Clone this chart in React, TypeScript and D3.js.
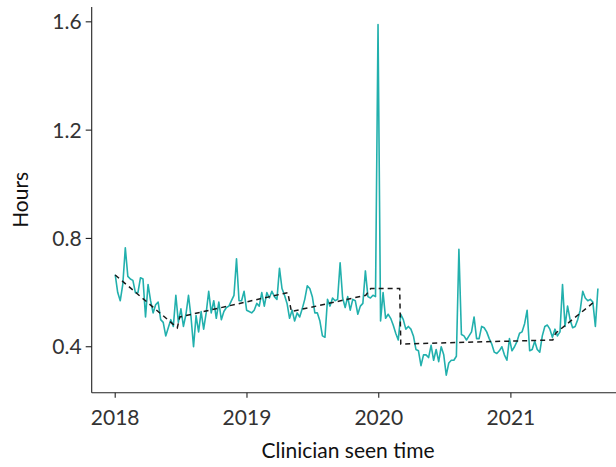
import React from "react";
import * as d3 from "d3";

// Weekly series starting 2018-01-01
const seriesStart = "2018-01-01";
const hours: number[] = [
  0.666, 0.60, 0.57, 0.63, 0.765, 0.66, 0.65, 0.645, 0.60, 0.60,
  0.655, 0.65, 0.51, 0.63, 0.57, 0.525, 0.555, 0.565, 0.50,
  0.49, 0.44, 0.47, 0.50, 0.475, 0.59, 0.49, 0.54, 0.475, 0.52,
  0.59, 0.51, 0.40, 0.515, 0.455, 0.53, 0.465, 0.525, 0.605, 0.525,
  0.57, 0.505, 0.565, 0.50, 0.53, 0.545, 0.55, 0.57, 0.59, 0.725,
  0.57, 0.57, 0.605, 0.535, 0.53, 0.525, 0.535, 0.56, 0.55,
  0.60, 0.55, 0.60, 0.58, 0.605, 0.585, 0.575, 0.69, 0.615, 0.59,
  0.56, 0.505, 0.535, 0.495, 0.525, 0.51, 0.54, 0.575, 0.625, 0.615,
  0.585, 0.525, 0.525, 0.495, 0.44, 0.435, 0.575, 0.55, 0.58,
  0.57, 0.575, 0.71, 0.58, 0.545, 0.585, 0.535, 0.575, 0.57, 0.52,
  0.55, 0.56, 0.68, 0.585, 0.58, 0.59, 0.585, 1.59, 0.495, 0.60,
  0.505, 0.52, 0.505, 0.48, 0.45, 0.425, 0.52, 0.50, 0.465, 0.475,
  0.465, 0.44, 0.39, 0.385, 0.33, 0.37, 0.37, 0.36, 0.405,
  0.35, 0.39, 0.345, 0.40, 0.37, 0.295, 0.34, 0.35, 0.35, 0.365,
  0.76, 0.445, 0.44, 0.425, 0.44, 0.455, 0.51, 0.43, 0.43, 0.475,
  0.47, 0.455, 0.43, 0.41, 0.38, 0.375, 0.385, 0.40, 0.37,
  0.35, 0.43, 0.385, 0.40, 0.42, 0.45, 0.455, 0.485, 0.535, 0.385,
  0.39, 0.42, 0.39, 0.38, 0.44, 0.475, 0.48, 0.465, 0.435, 0.465,
  0.44, 0.455, 0.63, 0.475, 0.55, 0.50, 0.47, 0.475, 0.50, 0.535,
  0.605, 0.58, 0.57, 0.575, 0.565, 0.475, 0.615,
];

// Segmented trend (dashed)
const trendDates: string[] = [
  "2018-01-01", "2018-06-22", "2018-06-29", "2019-04-24", "2019-05-04",
  "2019-11-26", "2019-12-10", "2020-02-28", "2020-03-02", "2021-04-27",
  "2021-05-05", "2021-08-19",
];
const trendValues: number[] = [
  0.665, 0.47, 0.51, 0.60, 0.53, 0.59, 0.615, 0.615, 0.41, 0.425, 0.45, 0.565,
];

const yTicks: number[] = [0.4, 0.8, 1.2, 1.6];
const xTickYears: number[] = [2018, 2019, 2020, 2021];

const W = 616;
const H = 467;
const panelLeft = 91.7;
const panelRight = 616;
const panelTop = 7;
const panelBottom = 392.7;

export default function App() {
  const start = new Date(seriesStart + "T00:00:00Z");
  const data = hours.map((v, i) => ({ date: d3.utcWeek.offset(start, i), v }));
  const trend = trendDates.map((d, i) => ({
    date: new Date(d + "T00:00:00Z"),
    v: trendValues[i],
  }));

  const [dMin, dMax] = d3.extent(data, (d) => d.date) as [Date, Date];
  const x = d3.scaleUtc().domain([dMin, dMax]).range([115.2, 597.9]);

  const [vMin, vMax] = d3.extent(data, (d) => d.v) as [number, number];
  const pad = (vMax - vMin) * 0.05;
  const y = d3
    .scaleLinear()
    .domain([vMin - pad, vMax + pad])
    .range([panelBottom, panelTop]);

  const line = d3
    .line<{ date: Date; v: number }>()
    .x((d) => x(d.date))
    .y((d) => y(d.v));

  const font = "Lato, 'Open Sans', sans-serif";
  const axisCol = "#222";
  const textCol = "#333";

  return (
    <svg
      width={W}
      height={H}
      style={{ position: "absolute", left: 0, top: 0, background: "#fff" }}
      fontFamily={font}
    >
      <path d={line(data) || ""} fill="none" stroke="#22B0AD" strokeWidth={1.6} strokeLinejoin="round" />
      <path
        d={line(trend) || ""}
        fill="none"
        stroke="#1a1a1a"
        strokeWidth={1.5}
        strokeDasharray="5,4"
      />

      <line x1={panelLeft} x2={panelLeft} y1={panelTop} y2={panelBottom} stroke={axisCol} strokeWidth={1.1} />
      <line x1={panelLeft} x2={panelRight} y1={panelBottom} y2={panelBottom} stroke={axisCol} strokeWidth={1.1} />

      {yTicks.map((t) => (
        <g key={t}>
          <line x1={panelLeft - 6} x2={panelLeft} y1={y(t)} y2={y(t)} stroke={axisCol} strokeWidth={1.1} />
          <text
            x={panelLeft - 10}
            y={y(t)}
            dy="0.36em"
            textAnchor="end"
            fontSize={21}
            fill={textCol}
          >
            {d3.format(".1f")(t)}
          </text>
        </g>
      ))}

      {xTickYears.map((yr) => {
        const xx = x(new Date(Date.UTC(yr, 0, 1)));
        return (
          <g key={yr}>
            <line x1={xx} x2={xx} y1={panelBottom} y2={panelBottom + 5} stroke={axisCol} strokeWidth={1.1} />
            <text x={xx} y={425} textAnchor="middle" fontSize={21} fill={textCol}>
              {yr}
            </text>
          </g>
        );
      })}

      <text x={348} y={458} textAnchor="middle" fontSize={21} fill="#111">
        Clinician seen time
      </text>
      <text
        transform={`translate(28, ${(panelTop + panelBottom) / 2}) rotate(-90)`}
        textAnchor="middle"
        fontSize={21}
        fill="#111"
      >
        Hours
      </text>
    </svg>
  );
}
